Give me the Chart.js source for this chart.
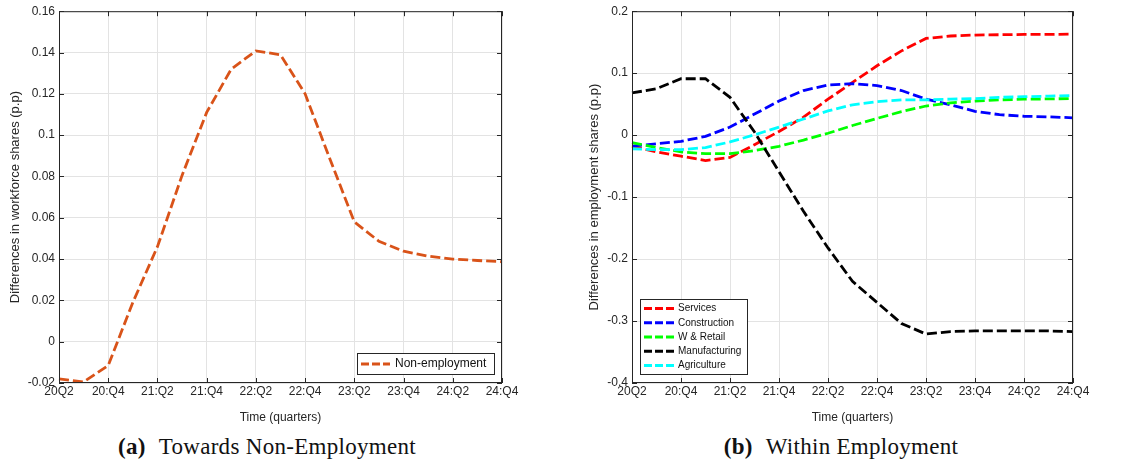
<!DOCTYPE html>
<html>
<head>
<meta charset="utf-8">
<script src="https://cdn.jsdelivr.net/npm/chart.js@4/dist/chart.umd.min.js"></script>
<style>
body { margin:0; background:#fff; }
#wrap { position:relative; width:1132px; height:464px; overflow:hidden; background:#fff; }
canvas { position:absolute; top:0; }
#c1 { left:0; }
#c2 { left:566px; }
.cap { position:absolute; top:434px; font-family:"Liberation Serif","Times New Roman",serif; font-size:23px; letter-spacing:0.3px; color:#111; white-space:nowrap; transform:translateX(-50%); }
.cap b { margin-right:13px; }
</style>
</head>
<body>
<div id="wrap">
<canvas id="c1" width="566" height="425"></canvas>
<canvas id="c2" width="566" height="425"></canvas>
<div class="cap" style="left:267px"><b>(a)</b>Towards Non-Employment</div>
<div class="cap" style="left:841px"><b>(b)</b>Within Employment</div>
</div>
<script>
// quarters 20Q2 .. 24Q4
const quarters = ['20Q2','20:Q3','20:Q4','21:Q1','21:Q2','21:Q3','21:Q4','22:Q1','22:Q2','22:Q3',
  '22:Q4','23:Q1','23:Q2','23:Q3','23:Q4','24:Q1','24:Q2','24:Q3','24:Q4'];

const nonEmployment = [-0.018,-0.0195,-0.0115,0.019,0.046,0.0805,0.111,0.132,0.1408,0.1389,
  0.120,0.0887,0.058,0.0486,0.0438,0.0414,0.0400,0.0393,0.0387];

const services = [-0.0176,-0.027,-0.034,-0.041,-0.036,-0.0155,0.006,0.029,0.058,0.085,
  0.112,0.136,0.156,0.160,0.1615,0.162,0.1625,0.1625,0.163];
const construction = [-0.0176,-0.014,-0.010,-0.002,0.013,0.034,0.055,0.072,0.081,0.083,
  0.080,0.072,0.058,0.049,0.0385,0.033,0.0305,0.0295,0.028];
const wRetail = [-0.012,-0.020,-0.027,-0.030,-0.030,-0.025,-0.018,-0.008,0.003,0.0155,
  0.027,0.038,0.047,0.052,0.055,0.057,0.058,0.0585,0.059];
const manufacturing = [0.068,0.075,0.091,0.091,0.061,0.005,-0.059,-0.123,-0.182,-0.236,
  -0.270,-0.304,-0.321,-0.317,-0.316,-0.316,-0.316,-0.316,-0.317];
const agriculture = [-0.022,-0.0235,-0.0235,-0.020,-0.011,0.0005,0.013,0.026,0.039,0.049,
  0.054,0.057,0.057,0.058,0.059,0.061,0.062,0.063,0.064];

const sectorNames = ['Services','Construction','W & Retail','Manufacturing','Agriculture'];
const sectorColors = ['#ff0000','#0000ff','#00ff00','#000000','#00ffff'];
const sectorData = [services, construction, wRetail, manufacturing, agriculture];

const leftTicks = { min:-0.02, max:0.16, step:0.02 };
const rightTicks = { min:-0.4, max:0.2, step:0.1 };

const sans = '"Liberation Sans", Arial, Helvetica, sans-serif';
const ink = '#262626';
const dash = [10,4];
const lw = 2.8;

// matlab style box with inward tick marks + legend box
const boxPlugin = {
  id: 'mbox',
  afterDraw(chart, args, opts) {
    const a = chart.chartArea, c = chart.ctx;
    const xs = chart.scales.x, ys = chart.scales.y;
    c.save();
    c.strokeStyle = ink;
    c.lineWidth = 1;
    c.strokeRect(a.left + 0.5, a.top + 0.5, a.right - a.left - 1, a.bottom - a.top - 1);
    c.beginPath();
    for (let i = 0; i < quarters.length; i += 2) {
      let x = Math.round(xs.getPixelForValue(i)) + 0.5;
      c.moveTo(x, a.bottom); c.lineTo(x, a.bottom - 5);
      c.moveTo(x, a.top); c.lineTo(x, a.top + 5);
    }
    ys.ticks.forEach(t => {
      let y = Math.round(ys.getPixelForValue(t.value)) + 0.5;
      c.moveTo(a.left, y); c.lineTo(a.left + 5, y);
      c.moveTo(a.right, y); c.lineTo(a.right - 5, y);
    });
    c.stroke();

    // legend
    const L = opts.legend;
    if (L) {
      c.fillStyle = '#fff';
      c.fillRect(L.x, L.y, L.w, L.h);
      c.strokeStyle = ink;
      c.strokeRect(L.x + 0.5, L.y + 0.5, L.w, L.h);
      c.font = L.font + 'px ' + sans;
      c.textBaseline = 'middle';
      c.textAlign = 'left';
      L.items.forEach((it, i) => {
        let y = L.y + L.first + i * L.row;
        c.save();
        c.strokeStyle = it.color;
        c.lineWidth = lw;
        c.setLineDash([8,3]);
        c.beginPath();
        c.moveTo(L.x + L.sx, y); c.lineTo(L.x + L.sx + L.sw, y);
        c.stroke();
        c.restore();
        c.fillStyle = '#111';
        c.fillText(it.label, L.x + L.tx, y);
      });
    }
    c.restore();
  }
};

function makeOptions(ticks, yTitle, yWidth, titlePad, padRight, legend, decimals) {
  return {
    responsive: false,
    devicePixelRatio: 1,
    animation: false,
    layout: { padding: { top: 8, right: padRight, left: 0, bottom: 0 } },
    elements: { point: { radius: 0 }, line: { tension: 0 } },
    plugins: {
      legend: { display: false },
      tooltip: { enabled: false },
      mbox: { legend: legend }
    },
    scales: {
      x: {
        type: 'category',
        offset: false,
        grid: { color: '#e3e3e3', drawTicks: false },
        border: { display: false },
        ticks: {
          autoSkip: false, maxRotation: 0, minRotation: 0, padding: 1,
          color: ink, font: { family: sans, size: 12 },
          callback: function(v, i) { return i % 2 === 0 ? quarters[i] : null; }
        },
        title: { display: true, text: 'Time (quarters)', color: ink,
          font: { family: sans, size: 12 }, padding: { top: 3, bottom: 0 } },
        afterFit: s => { s.height = 42; }
      },
      y: {
        min: ticks.min, max: ticks.max,
        grid: { color: '#e3e3e3', drawTicks: false },
        border: { display: false },
        ticks: {
          stepSize: ticks.step, padding: 4, color: ink, font: { family: sans, size: 12 },
          callback: v => String(+v.toFixed(decimals))
        },
        title: { display: true, text: yTitle, color: ink,
          font: { family: sans, size: 13 }, padding: { top: titlePad, bottom: 0 } },
        afterFit: s => { s.width = yWidth; }
      }
    }
  };
}

new Chart(document.getElementById('c1'), {
  type: 'line',
  data: {
    labels: quarters,
    datasets: [{
      label: 'Non-employment',
      data: nonEmployment,
      borderColor: '#d95319',
      borderWidth: lw,
      borderDash: dash
    }]
  },
  options: makeOptions(leftTicks, 'Differences in workforce shares (p.p)', 59, 8, 64,
    { x: 357, y: 353, w: 137, h: 21, first: 11, row: 14, sx: 4, sw: 29, tx: 38, font: 12,
      items: [{ label: 'Non-employment', color: '#d95319' }] }, 2),
  plugins: [boxPlugin]
});

new Chart(document.getElementById('c2'), {
  type: 'line',
  data: {
    labels: quarters,
    datasets: sectorNames.map((n, i) => ({
      label: n,
      data: sectorData[i],
      borderColor: sectorColors[i],
      borderWidth: lw,
      borderDash: dash,
      order: sectorNames.length - i
    }))
  },
  options: makeOptions(rightTicks, 'Differences in employment shares (p.p)', 66, 21, 59,
    { x: 74, y: 299, w: 107, h: 75, first: 9.5, row: 14.25, sx: 4, sw: 30, tx: 38, font: 10,
      items: sectorNames.map((n, i) => ({ label: n, color: sectorColors[i] })) }, 1),
  plugins: [boxPlugin]
});
</script>
</body>
</html>
